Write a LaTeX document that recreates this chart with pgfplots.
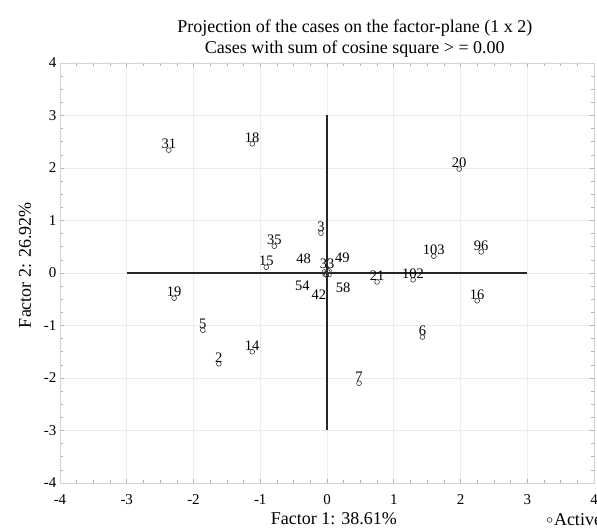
\documentclass[border=0pt]{standalone}
\usepackage{fontspec}
\setmainfont{Liberation Serif}
\usepackage{pgfplots}
\pgfplotsset{compat=1.18}

% cases plotted on the factor plane
\pgfplotstableread{
x y label
-2.37 2.34 31
-1.12 2.46 18
1.98 1.98 20
-0.09 0.76 3
-0.79 0.51 35
-0.91 0.11 15
1.60 0.32 103
2.31 0.40 96
1.29 -0.13 102
0.75 -0.17 21
2.25 -0.53 16
1.43 -1.22 6
0.48 -2.10 7
-2.29 -0.48 19
-1.86 -1.09 5
-1.62 -1.73 2
-1.12 -1.50 14
}\cases

% cases sitting on the origin, labels spread around it
\pgfplotstableread{
x y label
-0.04 0.02 48
0.01 0.02 33
0.03 0.04 49
-0.03 -0.02 54
-0.01 -0.04 42
0.03 -0.03 58
}\center

\pgfplotstableread{
x y label
-0.35 0.28 48
0.0 0.18 33
0.23 0.29 49
-0.37 -0.25 54
-0.12 -0.42 42
0.24 -0.29 58
}\centerlabels

\begin{document}
\begin{tikzpicture}
\begin{axis}[
  name=ax,
  width=534pt, height=420pt, scale only axis,
  xmin=-4, xmax=4, ymin=-4, ymax=4,
  xtick={-4,...,4}, ytick={-4,...,4},
  minor tick num=3,
  grid=major,
  major grid style={gray!15, line width=0.8pt},
  axis line style={gray!35},
  tick style={gray!60, line width=0.6pt},
  major tick length=4pt, minor tick length=3pt,
  tick align=inside,
  ticklabel style={font=\fontsize{15}{16}\selectfont},
  xticklabel style={yshift=-8pt},
  /pgf/number format/assume math mode=true,
  title={Projection of the cases on the factor-plane (1 x 2)\\Cases with sum of cosine square > = 0.00},
  title style={at={(0.552,1.008)}, anchor=base, align=center, font=\fontsize{18}{21}\selectfont},
  xlabel={Factor 1: 38.61\%},
  xlabel style={at={(0.513,-0.098)}, anchor=base, font=\fontsize{18}{20}\selectfont},
  ylabel={Factor 2: 26.92\%},
  ylabel style={at={(-0.0543,0.519)}, anchor=base, rotate=0, font=\fontsize{18}{20}\selectfont},
  legend style={at={(0.912,-0.088)}, anchor=west, draw=none, fill=none, inner sep=0pt,
    font=\fontsize{18}{20}\selectfont},
  legend image code/.code={\draw[#1] plot coordinates {(0pt,0pt)};},
  every node near coord/.append style={font=\fontsize{14.5}{16}\selectfont, inner sep=0pt},
]

% axis cross
\addplot[black!85, line width=2.2pt, forget plot] coordinates {(-3,0) (3,0)};
\addplot[black!85, line width=2.2pt, forget plot] coordinates {(0,-3) (0,3)};

\addplot[only marks, mark=o, mark size=2.4pt, black!80, line width=0.6pt,
  nodes near coords, point meta=explicit symbolic,
  nodes near coords style={anchor=south, yshift=1pt, text=black}]
  table[meta=label] {\cases};
\addlegendentry{Active}

\addplot[only marks, mark=o, mark size=2.4pt, black!80, line width=0.6pt, forget plot]
  table {\center};

\addplot[draw=none, mark=none, forget plot,
  nodes near coords, point meta=explicit symbolic,
  nodes near coords style={anchor=center, text=black}]
  table[meta=label] {\centerlabels};

\end{axis}
\pgfresetboundingbox
\path ([shift={(-60pt,-45pt)}]ax.south west) rectangle ([shift={(3pt,63pt)}]ax.north east);
\end{tikzpicture}
\end{document}
